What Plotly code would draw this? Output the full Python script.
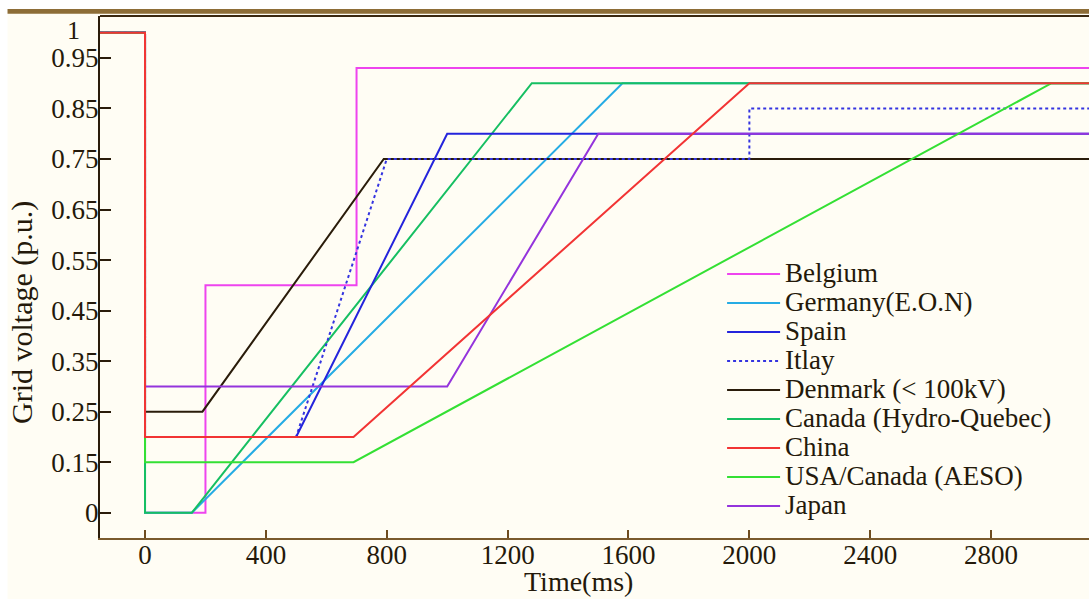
import plotly.graph_objects as go

# ---------------- data (time in ms, grid voltage in p.u.) ----------------
T_START = -150
T_END = 3130

names = ["Belgium", "Germany(E.O.N)", "Spain", "Itlay", "Denmark (< 100kV)",
         "Canada (Hydro-Quebec)", "China", "USA/Canada (AESO)", "Japan"]

belgium_t = [T_START, 0, 0, 200, 200, 700, 700, T_END]
belgium_v = [1, 1, 0, 0, 0.5, 0.5, 0.93, 0.93]

germany_t = [T_START, 0, 0, 155, 1580, T_END]
germany_v = [1, 1, 0, 0, 0.9, 0.9]

spain_t = [T_START, 0, 0, 500, 1000, T_END]
spain_v = [1, 1, 0.2, 0.2, 0.8, 0.8]

italy_t = [T_START, 0, 0, 500, 800, 2000, 2000, T_END]
italy_v = [1, 1, 0.2, 0.2, 0.75, 0.75, 0.85, 0.85]

denmark_t = [T_START, 0, 0, 190, 790, T_END]
denmark_v = [1, 1, 0.25, 0.25, 0.75, 0.75]

canada_t = [T_START, 0, 0, 155, 1280, T_END]
canada_v = [1, 1, 0, 0, 0.9, 0.9]

china_t = [T_START, 0, 0, 690, 2000, T_END]
china_v = [1, 1, 0.2, 0.2, 0.9, 0.9]

aeso_t = [T_START, 0, 0, 690, 3000, T_END]
aeso_v = [1, 1, 0.15, 0.15, 0.9, 0.9]

japan_t = [T_START, 0, 0, 1000, 1500, T_END]
japan_v = [1, 1, 0.3, 0.3, 0.8, 0.8]

x_ticks = [0, 400, 800, 1200, 1600, 2000, 2400, 2800]
y_tick_values = [0, 0.15, 0.25, 0.35, 0.45, 0.55, 0.65, 0.75, 0.85, 0.95]
y_tick_labels = ["0", "0.15", "0.25", "0.35", "0.45", "0.55", "0.65", "0.75", "0.85", "0.95"]


# The original axis is broken below 0.15: the "0" tick sits one tick step
# (0.1) below 0.15, i.e. the 0..0.15 band is compressed onto 0.05..0.15.
def to_axis(v):
    return 0.05 + v * (0.10 / 0.15) if v < 0.15 else v


# ---------------- styles ----------------
FONT = "Liberation Serif, Times New Roman, serif"
TXT = "#24190a"
BG = "#fffdf4"

series = {
    "Belgium": (belgium_t, belgium_v, "#ee44ee", "solid"),
    "Germany(E.O.N)": (germany_t, germany_v, "#26ace4", "solid"),
    "Spain": (spain_t, spain_v, "#2424dc", "solid"),
    "Itlay": (italy_t, italy_v, "#3434e0", "dot"),
    "Denmark (< 100kV)": (denmark_t, denmark_v, "#2a1c0a", "solid"),
    "Canada (Hydro-Quebec)": (canada_t, canada_v, "#16bf62", "solid"),
    "China": (china_t, china_v, "#f23434", "solid"),
    "USA/Canada (AESO)": (aeso_t, aeso_v, "#34e034", "solid"),
    "Japan": (japan_t, japan_v, "#9434dc", "solid"),
}

# drawing order (later = on top); legend order kept via legendrank
draw_order = ["Belgium", "Germany(E.O.N)", "Canada (Hydro-Quebec)", "Denmark (< 100kV)",
              "Itlay", "Spain", "Japan", "USA/Canada (AESO)", "China"]

fig = go.Figure()
for nm in draw_order:
    t, v, col, dash = series[nm]
    fig.add_trace(go.Scatter(
        x=t, y=[to_axis(val) for val in v], mode="lines",
        name='<span style="font-size:27px">' + nm + '</span>',
        line=dict(color=col, width=2, dash=dash),
        legendrank=names.index(nm) + 1,
        hoverinfo="skip",
    ))

fig.update_layout(
    width=1089, height=599,
    margin=dict(l=100, r=0, t=16, b=61),
    paper_bgcolor=BG, plot_bgcolor=BG,
    font=dict(family=FONT, color=TXT, size=26),
    showlegend=True,
    legend=dict(
        x=0.629, y=0.543, xanchor="left", yanchor="top",
        bgcolor="rgba(0,0,0,0)", borderwidth=0,
        font=dict(family=FONT, size=20, color=TXT),
        itemwidth=53, tracegroupgap=0,
    ),
    xaxis=dict(
        range=[-149, 3124], tickvals=x_ticks, ticks="inside", ticklen=8,
        tickwidth=1.5, tickcolor="#6e4c1e", showline=True, linecolor="#7a5a2c",
        linewidth=2, showgrid=False, zeroline=False, ticklabelstandoff=-8,
        tickfont=dict(family=FONT, size=27, color=TXT),
    ),
    yaxis=dict(
        range=[0, 1.033], tickvals=[to_axis(v) for v in y_tick_values],
        ticktext=y_tick_labels, ticks="inside", ticklen=11, tickwidth=1.5,
        tickcolor="#2a1c0a", showline=True, linecolor="#2a1c0a", linewidth=2,
        showgrid=False, zeroline=False, ticklabelstandoff=-6,
        tickfont=dict(family=FONT, size=27, color=TXT),
    ),
    shapes=[
        # white outer strip (top and left)
        dict(type="rect", xref="paper", yref="paper", x0=-0.2, x1=1.1,
             y0=1.0135, y1=1.1, fillcolor="white", line_width=0, layer="above"),
        dict(type="rect", xref="paper", yref="paper", x0=-0.2, x1=-0.0935,
             y0=-0.2, y1=1.1, fillcolor="white", line_width=0, layer="above"),
        # brown frame band at the top
        dict(type="rect", xref="paper", yref="paper", x0=-0.0935, x1=1.1,
             y0=1.0045, y1=1.0135, fillcolor="#8d6d37", line_width=0, layer="above"),
        dict(type="line", xref="paper", yref="paper", x0=0, x1=1.0,
             y0=1.0, y1=1.0, line=dict(color="#3a2810", width=2), layer="above"),
    ],
    annotations=[
        dict(text="1", xref="paper", yref="y", x=(73 - 100) / 989, y=1.0,
             xanchor="center", yanchor="middle", yshift=2, showarrow=False,
             font=dict(family=FONT, size=26, color=TXT)),
        dict(text="Time(ms)", xref="paper", yref="paper", x=(578 - 100) / 989,
             y=(538 - 581) / 522, xanchor="center", yanchor="middle",
             showarrow=False, font=dict(family=FONT, size=28, color=TXT)),
        dict(text="Grid voltage (p.u.)", xref="paper", yref="paper",
             x=(22 - 100) / 989, y=(538 - 313) / 522, xanchor="center",
             yanchor="middle", textangle=-90, showarrow=False,
             font=dict(family=FONT, size=30, color=TXT)),
    ],
)

fig.write_html("out.html")
